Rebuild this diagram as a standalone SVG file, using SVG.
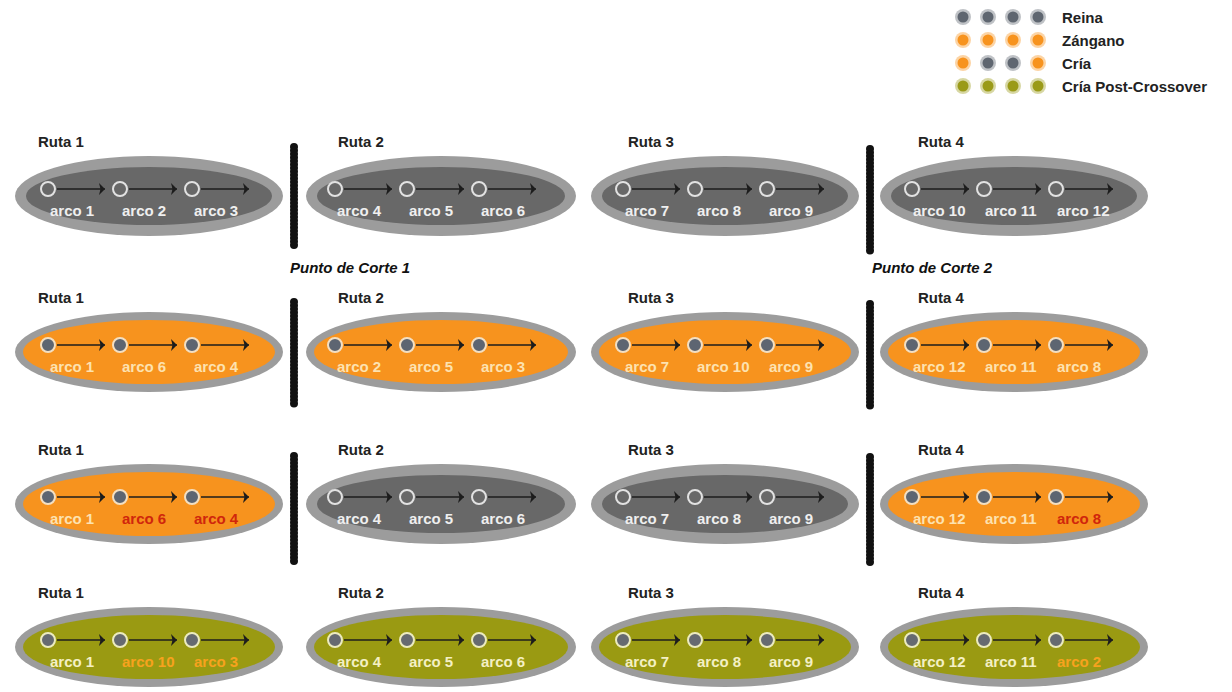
<svg xmlns="http://www.w3.org/2000/svg" width="1232" height="692" viewBox="0 0 1232 692">
  <defs>
    <style>
      .t{font-family:"Liberation Sans",Arial,Helvetica,sans-serif;font-weight:bold;font-size:15px}
      .ruta{fill:#222}
      .cut{font-style:italic;fill:#111}
      .outer{fill:#9c9c9c}
      .in-g{fill:#686868}
      .in-o{fill:#f7931e}
      .in-v{fill:#9a9a12}
      .dot-g{fill:#686868;stroke:#e2e2e2;stroke-width:2}
      .dot-o{fill:#5d6571;stroke:#f3dfc2;stroke-width:2}
      .dot-v{fill:#666a70;stroke:#ecebbf;stroke-width:2}
      .lbl-g{fill:#efefef}
      .lbl-o{fill:#fde2b0}
      .lbl-r{fill:#d0260c}
      .lbl-v{fill:#f4f0c4}
      .lbl-a{fill:#f7a21e}
      .arc{stroke:#1c1c1c;stroke-width:1.7;fill:none;marker-end:url(#ah)}
      .bar{stroke:#111;stroke-width:8;stroke-linecap:round;stroke-dasharray:0.1 3.4;fill:none}
      .barc{stroke:#111;stroke-width:5;fill:none}
      .lg-g{fill:#5f6670}
      .lg-o{fill:#f7931e}
      .lg-v{fill:#9a9a18}
      .halo{opacity:0.4}
    </style>
    <marker id="ah" viewBox="0 0 6 12" refX="6" refY="6" markerWidth="6" markerHeight="12" markerUnits="userSpaceOnUse" orient="auto">
      <path d="M0,0 L6,6 L0,12 L1.5,6 z" fill="#1c1c1c"/>
    </marker>
  </defs>

  <rect width="1232" height="692" fill="#ffffff"/>

  <!-- legend -->
  <g id="legend">
    <g class="lg-g">
      <circle class="halo" cx="963" cy="17" r="8"/><circle cx="963" cy="17" r="5.5"/>
      <circle class="halo" cx="988" cy="17" r="8"/><circle cx="988" cy="17" r="5.5"/>
      <circle class="halo" cx="1013" cy="17" r="8"/><circle cx="1013" cy="17" r="5.5"/>
      <circle class="halo" cx="1038" cy="17" r="8"/><circle cx="1038" cy="17" r="5.5"/>
    </g>
    <g class="lg-o">
      <circle class="halo" cx="963" cy="40" r="8"/><circle cx="963" cy="40" r="5.5"/>
      <circle class="halo" cx="988" cy="40" r="8"/><circle cx="988" cy="40" r="5.5"/>
      <circle class="halo" cx="1013" cy="40" r="8"/><circle cx="1013" cy="40" r="5.5"/>
      <circle class="halo" cx="1038" cy="40" r="8"/><circle cx="1038" cy="40" r="5.5"/>
    </g>
    <g>
      <circle class="lg-o halo" cx="963" cy="63" r="8"/><circle class="lg-o" cx="963" cy="63" r="5.5"/>
      <circle class="lg-g halo" cx="988" cy="63" r="8"/><circle class="lg-g" cx="988" cy="63" r="5.5"/>
      <circle class="lg-g halo" cx="1013" cy="63" r="8"/><circle class="lg-g" cx="1013" cy="63" r="5.5"/>
      <circle class="lg-o halo" cx="1038" cy="63" r="8"/><circle class="lg-o" cx="1038" cy="63" r="5.5"/>
    </g>
    <g class="lg-v">
      <circle class="halo" cx="963" cy="86" r="8"/><circle cx="963" cy="86" r="5.5"/>
      <circle class="halo" cx="988" cy="86" r="8"/><circle cx="988" cy="86" r="5.5"/>
      <circle class="halo" cx="1013" cy="86" r="8"/><circle cx="1013" cy="86" r="5.5"/>
      <circle class="halo" cx="1038" cy="86" r="8"/><circle cx="1038" cy="86" r="5.5"/>
    </g>
    <text class="t ruta" x="1062" y="23">Reina</text>
    <text class="t ruta" x="1062" y="46">Zángano</text>
    <text class="t ruta" x="1062" y="69">Cría</text>
    <text class="t ruta" x="1062" y="92">Cría Post-Crossover</text>
  </g>

  <!-- cut points -->
  <g id="cuts">
    <line class="barc" x1="294" y1="147" x2="294" y2="248"/><line class="bar" x1="294" y1="147" x2="294" y2="248"/>
    <line class="barc" x1="294" y1="302" x2="294" y2="406"/><line class="bar" x1="294" y1="302" x2="294" y2="406"/>
    <line class="barc" x1="294" y1="456" x2="294" y2="563"/><line class="bar" x1="294" y1="456" x2="294" y2="563"/>
    <line class="barc" x1="870" y1="149" x2="870" y2="253"/><line class="bar" x1="870" y1="149" x2="870" y2="253"/>
    <line class="barc" x1="870" y1="304" x2="870" y2="408"/><line class="bar" x1="870" y1="304" x2="870" y2="408"/>
    <line class="barc" x1="870" y1="457" x2="870" y2="563"/><line class="bar" x1="870" y1="457" x2="870" y2="563"/>
    <text class="t cut" x="290" y="273">Punto de Corte 1</text>
    <text class="t cut" x="872" y="273">Punto de Corte 2</text>
  </g>

  <!-- row 1: queen -->
  <g id="r1-ruta1" transform="translate(0,189)">
    <text class="t ruta" x="38" y="-42">Ruta 1</text>
    <ellipse class="outer" cx="149" cy="7" rx="134" ry="40"/>
    <ellipse class="in-g" cx="149" cy="7" rx="123" ry="29"/>
    <circle class="dot-g" cx="48" cy="0" r="7"/><circle class="dot-g" cx="120" cy="0" r="7"/><circle class="dot-g" cx="192" cy="0" r="7"/>
    <text class="t lbl-g" x="50" y="27">arco 1</text><text class="t lbl-g" x="122" y="27">arco 2</text><text class="t lbl-g" x="194" y="27">arco 3</text>
  </g>
  <g id="r1-ruta2" transform="translate(0,189)">
    <text class="t ruta" x="338" y="-42">Ruta 2</text>
    <ellipse class="outer" cx="441" cy="7" rx="135" ry="40"/>
    <ellipse class="in-g" cx="441" cy="7" rx="124" ry="29"/>
    <circle class="dot-g" cx="335" cy="0" r="7"/><circle class="dot-g" cx="407" cy="0" r="7"/><circle class="dot-g" cx="479" cy="0" r="7"/>
    <text class="t lbl-g" x="337" y="27">arco 4</text><text class="t lbl-g" x="409" y="27">arco 5</text><text class="t lbl-g" x="481" y="27">arco 6</text>
  </g>
  <g id="r1-ruta3" transform="translate(0,189)">
    <text class="t ruta" x="628" y="-42">Ruta 3</text>
    <ellipse class="outer" cx="725" cy="7" rx="134" ry="40"/>
    <ellipse class="in-g" cx="725" cy="7" rx="123" ry="29"/>
    <circle class="dot-g" cx="623" cy="0" r="7"/><circle class="dot-g" cx="695" cy="0" r="7"/><circle class="dot-g" cx="767" cy="0" r="7"/>
    <text class="t lbl-g" x="625" y="27">arco 7</text><text class="t lbl-g" x="697" y="27">arco 8</text><text class="t lbl-g" x="769" y="27">arco 9</text>
  </g>
  <g id="r1-ruta4" transform="translate(0,189)">
    <text class="t ruta" x="918" y="-42">Ruta 4</text>
    <ellipse class="outer" cx="1014" cy="7" rx="134" ry="40"/>
    <ellipse class="in-g" cx="1014" cy="7" rx="123" ry="29"/>
    <circle class="dot-g" cx="912" cy="0" r="7"/><circle class="dot-g" cx="984" cy="0" r="7"/><circle class="dot-g" cx="1056" cy="0" r="7"/>
    <text class="t lbl-g" x="913" y="27">arco 10</text><text class="t lbl-g" x="985" y="27">arco 11</text><text class="t lbl-g" x="1057" y="27">arco 12</text>
  </g>

  <!-- row 2: drone -->
  <g id="r2-ruta1" transform="translate(0,345)">
    <text class="t ruta" x="38" y="-42">Ruta 1</text>
    <ellipse class="outer" cx="149" cy="7" rx="134" ry="40"/>
    <ellipse class="in-o" cx="149" cy="7" rx="126" ry="32"/>
    <circle class="dot-o" cx="48" cy="0" r="7"/><circle class="dot-o" cx="120" cy="0" r="7"/><circle class="dot-o" cx="192" cy="0" r="7"/>
    <text class="t lbl-o" x="50" y="27">arco 1</text><text class="t lbl-o" x="122" y="27">arco 6</text><text class="t lbl-o" x="194" y="27">arco 4</text>
  </g>
  <g id="r2-ruta2" transform="translate(0,345)">
    <text class="t ruta" x="338" y="-42">Ruta 2</text>
    <ellipse class="outer" cx="441" cy="7" rx="135" ry="40"/>
    <ellipse class="in-o" cx="441" cy="7" rx="127" ry="32"/>
    <circle class="dot-o" cx="335" cy="0" r="7"/><circle class="dot-o" cx="407" cy="0" r="7"/><circle class="dot-o" cx="479" cy="0" r="7"/>
    <text class="t lbl-o" x="337" y="27">arco 2</text><text class="t lbl-o" x="409" y="27">arco 5</text><text class="t lbl-o" x="481" y="27">arco 3</text>
  </g>
  <g id="r2-ruta3" transform="translate(0,345)">
    <text class="t ruta" x="628" y="-42">Ruta 3</text>
    <ellipse class="outer" cx="725" cy="7" rx="134" ry="40"/>
    <ellipse class="in-o" cx="725" cy="7" rx="126" ry="32"/>
    <circle class="dot-o" cx="623" cy="0" r="7"/><circle class="dot-o" cx="695" cy="0" r="7"/><circle class="dot-o" cx="767" cy="0" r="7"/>
    <text class="t lbl-o" x="625" y="27">arco 7</text><text class="t lbl-o" x="697" y="27">arco 10</text><text class="t lbl-o" x="769" y="27">arco 9</text>
  </g>
  <g id="r2-ruta4" transform="translate(0,345)">
    <text class="t ruta" x="918" y="-42">Ruta 4</text>
    <ellipse class="outer" cx="1014" cy="7" rx="134" ry="40"/>
    <ellipse class="in-o" cx="1014" cy="7" rx="126" ry="32"/>
    <circle class="dot-o" cx="912" cy="0" r="7"/><circle class="dot-o" cx="984" cy="0" r="7"/><circle class="dot-o" cx="1056" cy="0" r="7"/>
    <text class="t lbl-o" x="913" y="27">arco 12</text><text class="t lbl-o" x="985" y="27">arco 11</text><text class="t lbl-o" x="1057" y="27">arco 8</text>
  </g>

  <!-- row 3: offspring -->
  <g id="r3-ruta1" transform="translate(0,497)">
    <text class="t ruta" x="38" y="-42">Ruta 1</text>
    <ellipse class="outer" cx="149" cy="7" rx="134" ry="40"/>
    <ellipse class="in-o" cx="149" cy="7" rx="126" ry="32"/>
    <circle class="dot-o" cx="48" cy="0" r="7"/><circle class="dot-o" cx="120" cy="0" r="7"/><circle class="dot-o" cx="192" cy="0" r="7"/>
    <text class="t lbl-o" x="50" y="27">arco 1</text><text class="t lbl-r" x="122" y="27">arco 6</text><text class="t lbl-r" x="194" y="27">arco 4</text>
  </g>
  <g id="r3-ruta2" transform="translate(0,497)">
    <text class="t ruta" x="338" y="-42">Ruta 2</text>
    <ellipse class="outer" cx="441" cy="7" rx="135" ry="40"/>
    <ellipse class="in-g" cx="441" cy="7" rx="124" ry="29"/>
    <circle class="dot-g" cx="335" cy="0" r="7"/><circle class="dot-g" cx="407" cy="0" r="7"/><circle class="dot-g" cx="479" cy="0" r="7"/>
    <text class="t lbl-g" x="337" y="27">arco 4</text><text class="t lbl-g" x="409" y="27">arco 5</text><text class="t lbl-g" x="481" y="27">arco 6</text>
  </g>
  <g id="r3-ruta3" transform="translate(0,497)">
    <text class="t ruta" x="628" y="-42">Ruta 3</text>
    <ellipse class="outer" cx="725" cy="7" rx="134" ry="40"/>
    <ellipse class="in-g" cx="725" cy="7" rx="123" ry="29"/>
    <circle class="dot-g" cx="623" cy="0" r="7"/><circle class="dot-g" cx="695" cy="0" r="7"/><circle class="dot-g" cx="767" cy="0" r="7"/>
    <text class="t lbl-g" x="625" y="27">arco 7</text><text class="t lbl-g" x="697" y="27">arco 8</text><text class="t lbl-g" x="769" y="27">arco 9</text>
  </g>
  <g id="r3-ruta4" transform="translate(0,497)">
    <text class="t ruta" x="918" y="-42">Ruta 4</text>
    <ellipse class="outer" cx="1014" cy="7" rx="134" ry="40"/>
    <ellipse class="in-o" cx="1014" cy="7" rx="126" ry="32"/>
    <circle class="dot-o" cx="912" cy="0" r="7"/><circle class="dot-o" cx="984" cy="0" r="7"/><circle class="dot-o" cx="1056" cy="0" r="7"/>
    <text class="t lbl-o" x="913" y="27">arco 12</text><text class="t lbl-o" x="985" y="27">arco 11</text><text class="t lbl-r" x="1057" y="27">arco 8</text>
  </g>

  <!-- row 4: offspring after crossover -->
  <g id="r4-ruta1" transform="translate(0,640)">
    <text class="t ruta" x="38" y="-42">Ruta 1</text>
    <ellipse class="outer" cx="149" cy="7" rx="134" ry="40"/>
    <ellipse class="in-v" cx="149" cy="7" rx="126" ry="32"/>
    <circle class="dot-v" cx="48" cy="0" r="7"/><circle class="dot-v" cx="120" cy="0" r="7"/><circle class="dot-v" cx="192" cy="0" r="7"/>
    <text class="t lbl-v" x="50" y="27">arco 1</text><text class="t lbl-a" x="122" y="27">arco 10</text><text class="t lbl-a" x="194" y="27">arco 3</text>
  </g>
  <g id="r4-ruta2" transform="translate(0,640)">
    <text class="t ruta" x="338" y="-42">Ruta 2</text>
    <ellipse class="outer" cx="441" cy="7" rx="135" ry="40"/>
    <ellipse class="in-v" cx="441" cy="7" rx="127" ry="32"/>
    <circle class="dot-v" cx="335" cy="0" r="7"/><circle class="dot-v" cx="407" cy="0" r="7"/><circle class="dot-v" cx="479" cy="0" r="7"/>
    <text class="t lbl-v" x="337" y="27">arco 4</text><text class="t lbl-v" x="409" y="27">arco 5</text><text class="t lbl-v" x="481" y="27">arco 6</text>
  </g>
  <g id="r4-ruta3" transform="translate(0,640)">
    <text class="t ruta" x="628" y="-42">Ruta 3</text>
    <ellipse class="outer" cx="725" cy="7" rx="134" ry="40"/>
    <ellipse class="in-v" cx="725" cy="7" rx="126" ry="32"/>
    <circle class="dot-v" cx="623" cy="0" r="7"/><circle class="dot-v" cx="695" cy="0" r="7"/><circle class="dot-v" cx="767" cy="0" r="7"/>
    <text class="t lbl-v" x="625" y="27">arco 7</text><text class="t lbl-v" x="697" y="27">arco 8</text><text class="t lbl-v" x="769" y="27">arco 9</text>
  </g>
  <g id="r4-ruta4" transform="translate(0,640)">
    <text class="t ruta" x="918" y="-42">Ruta 4</text>
    <ellipse class="outer" cx="1014" cy="7" rx="134" ry="40"/>
    <ellipse class="in-v" cx="1014" cy="7" rx="126" ry="32"/>
    <circle class="dot-v" cx="912" cy="0" r="7"/><circle class="dot-v" cx="984" cy="0" r="7"/><circle class="dot-v" cx="1056" cy="0" r="7"/>
    <text class="t lbl-v" x="913" y="27">arco 12</text><text class="t lbl-v" x="985" y="27">arco 11</text><text class="t lbl-a" x="1057" y="27">arco 2</text>
  </g>

  <!-- arc arrows: one per node circle, each with its own arrowhead -->
  <g id="connectors">
    <g transform="translate(0,189)">
      <line class="arc" x1="57" y1="0" x2="105" y2="0"/><line class="arc" x1="129" y1="0" x2="177" y2="0"/><line class="arc" x1="201" y1="0" x2="249" y2="0"/>
      <line class="arc" x1="344" y1="0" x2="392" y2="0"/><line class="arc" x1="416" y1="0" x2="464" y2="0"/><line class="arc" x1="488" y1="0" x2="536" y2="0"/>
      <line class="arc" x1="632" y1="0" x2="680" y2="0"/><line class="arc" x1="704" y1="0" x2="752" y2="0"/><line class="arc" x1="776" y1="0" x2="824" y2="0"/>
      <line class="arc" x1="921" y1="0" x2="969" y2="0"/><line class="arc" x1="993" y1="0" x2="1041" y2="0"/><line class="arc" x1="1065" y1="0" x2="1113" y2="0"/>
    </g>
    <g transform="translate(0,345)">
      <line class="arc" x1="57" y1="0" x2="105" y2="0"/><line class="arc" x1="129" y1="0" x2="177" y2="0"/><line class="arc" x1="201" y1="0" x2="249" y2="0"/>
      <line class="arc" x1="344" y1="0" x2="392" y2="0"/><line class="arc" x1="416" y1="0" x2="464" y2="0"/><line class="arc" x1="488" y1="0" x2="536" y2="0"/>
      <line class="arc" x1="632" y1="0" x2="680" y2="0"/><line class="arc" x1="704" y1="0" x2="752" y2="0"/><line class="arc" x1="776" y1="0" x2="824" y2="0"/>
      <line class="arc" x1="921" y1="0" x2="969" y2="0"/><line class="arc" x1="993" y1="0" x2="1041" y2="0"/><line class="arc" x1="1065" y1="0" x2="1113" y2="0"/>
    </g>
    <g transform="translate(0,497)">
      <line class="arc" x1="57" y1="0" x2="105" y2="0"/><line class="arc" x1="129" y1="0" x2="177" y2="0"/><line class="arc" x1="201" y1="0" x2="249" y2="0"/>
      <line class="arc" x1="344" y1="0" x2="392" y2="0"/><line class="arc" x1="416" y1="0" x2="464" y2="0"/><line class="arc" x1="488" y1="0" x2="536" y2="0"/>
      <line class="arc" x1="632" y1="0" x2="680" y2="0"/><line class="arc" x1="704" y1="0" x2="752" y2="0"/><line class="arc" x1="776" y1="0" x2="824" y2="0"/>
      <line class="arc" x1="921" y1="0" x2="969" y2="0"/><line class="arc" x1="993" y1="0" x2="1041" y2="0"/><line class="arc" x1="1065" y1="0" x2="1113" y2="0"/>
    </g>
    <g transform="translate(0,640)">
      <line class="arc" x1="57" y1="0" x2="105" y2="0"/><line class="arc" x1="129" y1="0" x2="177" y2="0"/><line class="arc" x1="201" y1="0" x2="249" y2="0"/>
      <line class="arc" x1="344" y1="0" x2="392" y2="0"/><line class="arc" x1="416" y1="0" x2="464" y2="0"/><line class="arc" x1="488" y1="0" x2="536" y2="0"/>
      <line class="arc" x1="632" y1="0" x2="680" y2="0"/><line class="arc" x1="704" y1="0" x2="752" y2="0"/><line class="arc" x1="776" y1="0" x2="824" y2="0"/>
      <line class="arc" x1="921" y1="0" x2="969" y2="0"/><line class="arc" x1="993" y1="0" x2="1041" y2="0"/><line class="arc" x1="1065" y1="0" x2="1113" y2="0"/>
    </g>
  </g>
</svg>
